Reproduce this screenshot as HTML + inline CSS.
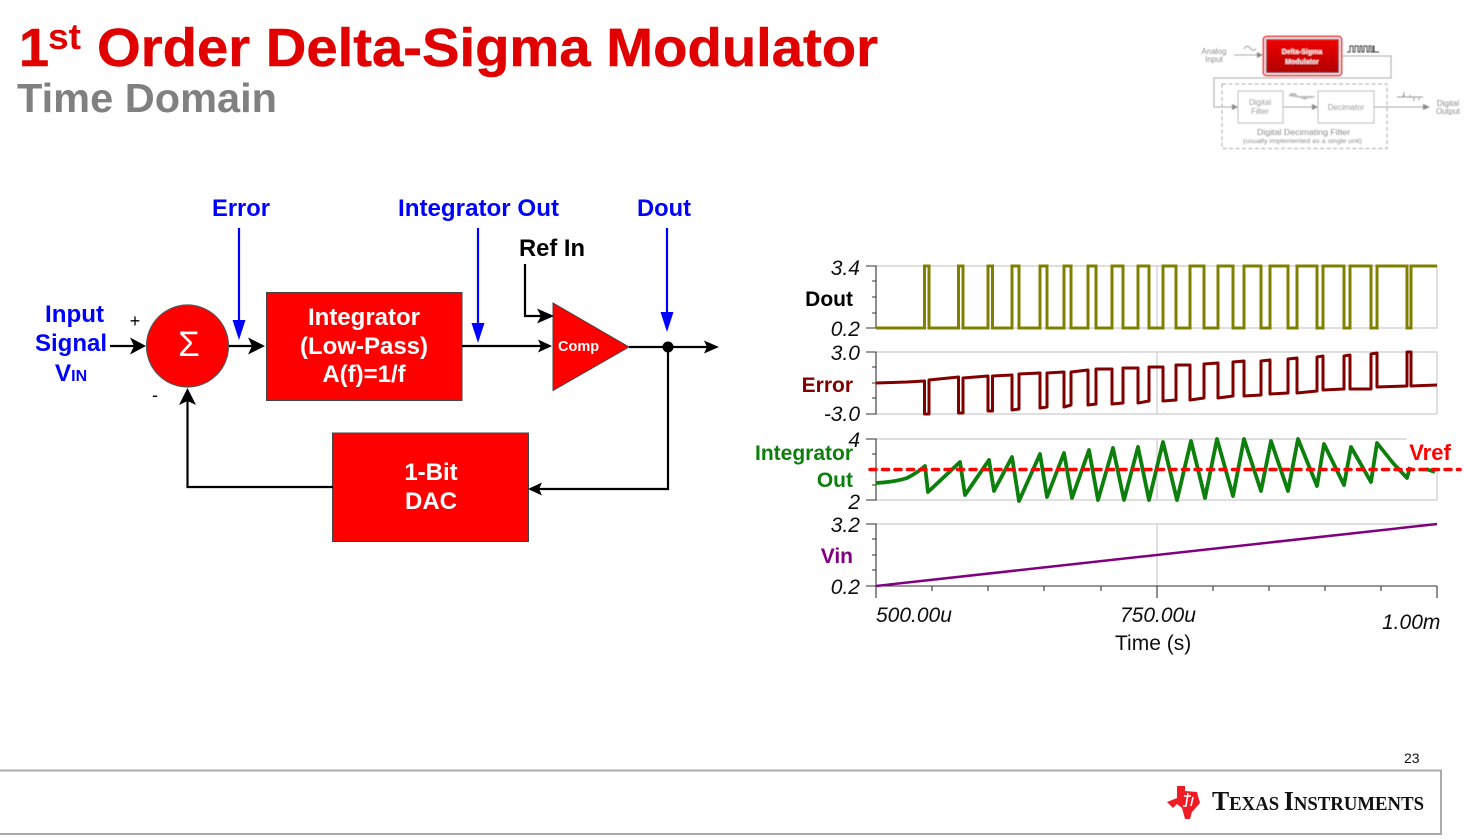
<!DOCTYPE html>
<html><head><meta charset="utf-8"><style>
html,body{margin:0;padding:0;background:#fff;width:1464px;height:840px;overflow:hidden}
svg{display:block}
text{font-family:"Liberation Sans",sans-serif}
.b{font-weight:bold;font-size:24.500px}
.blue{fill:#0000ff}
.w{fill:#fff;font-weight:bold;font-size:24px;text-anchor:middle}
.ax{font-style:italic;font-size:21px;text-anchor:end;fill:#111}
.lab{font-weight:bold;font-size:21px;text-anchor:end}
.th{fill:#8c8c8c;font-size:8px;text-anchor:middle}
</style></head><body>
<svg width="1464" height="840" viewBox="0 0 1464 840" xmlns="http://www.w3.org/2000/svg">
<rect width="1464" height="840" fill="#fff"/>
<defs>
<filter id="bl" x="-5%" y="-5%" width="110%" height="110%"><feGaussianBlur stdDeviation="0.55"/></filter>
<filter id="sb" x="-2%" y="-2%" width="104%" height="104%"><feGaussianBlur stdDeviation="0.3"/></filter>
<linearGradient id="rg" x1="0" y1="0" x2="0" y2="1"><stop offset="0" stop-color="#f00000"/><stop offset="1" stop-color="#b00000"/></linearGradient>
</defs>
<!-- Title -->
<text x="19" y="66" font-weight="bold" font-size="54" fill="#e00000" stroke="#e00000" stroke-width="0.500">1</text>
<text x="48" y="49" font-weight="bold" font-size="36" fill="#e00000" textLength="33" lengthAdjust="spacingAndGlyphs">st</text>
<text x="97" y="66" font-weight="bold" font-size="54" fill="#e00000" stroke="#e00000" stroke-width="0.500" textLength="781" lengthAdjust="spacingAndGlyphs">Order Delta-Sigma Modulator</text>
<text x="17" y="112" font-weight="bold" font-size="41" fill="#808080" textLength="260" lengthAdjust="spacingAndGlyphs">Time Domain</text>

<!-- Thumbnail -->
<g filter="url(#bl)">
<rect x="1222" y="84" width="165" height="64.500" fill="none" stroke="#aaa" stroke-dasharray="4 2.500"/>
<rect x="1238" y="91" width="45" height="32" fill="#fff" stroke="#bbb"/>
<rect x="1318" y="91" width="56" height="32" fill="#fff" stroke="#bbb"/>
<path d="M1234 55H1257M1342 56H1391V78H1214V107H1233M1283 107H1313M1374 107H1425" fill="none" stroke="#aaa"/>
<path d="M1257 52l6 3l-6 3zM1232 104l6 3l-6 3zM1312 104l6 3l-6 3zM1423 104l7 3l-7 3z" fill="#888"/>
<rect x="1263.500" y="36.500" width="78" height="39" rx="3" fill="#fff" stroke="#e01010" stroke-width="1.500"/>
<rect x="1266" y="39" width="73" height="34" fill="url(#rg)" stroke="#79a" stroke-width="0.800"/>
<text x="1302" y="54" fill="#fff" font-size="7" font-weight="bold" text-anchor="middle">Delta-Sigma</text>
<text x="1302" y="64" fill="#fff" font-size="7" font-weight="bold" text-anchor="middle">Modulator</text>
<text x="1214" y="54" class="th">Analog</text><text x="1214" y="62" class="th">Input</text>
<text x="1260" y="105" class="th">Digital</text><text x="1260" y="114" class="th">Filter</text>
<text x="1346" y="110" class="th">Decimator</text>
<text x="1448" y="106" class="th">Digital</text><text x="1448" y="114" class="th">Output</text>
<text x="1303.500" y="135" class="th" textLength="93" lengthAdjust="spacingAndGlyphs">Digital Decimating Filter</text>
<text x="1302.500" y="143" class="th" style="font-size:6px" textLength="119" lengthAdjust="spacingAndGlyphs">(usually implemented as a single unit)</text>
<path d="M1244 49q3-5 6-1t6 1" fill="none" stroke="#999"/>
<path d="M1347 52h3v-6h3v6h2v-6h3v6h2v-6h2v6h2v-6h3v6h2v-6h2v6h2v-6h1v6h5" fill="none" stroke="#333" stroke-width="0.900"/>
<path d="M1288 96l3-3h4l3 3h18l-4 2h-4l-3 2l-4-2z" fill="#bbb"/>
<path d="M1397 97h26M1403 97v-2M1404 97v-5M1410 97v-2M1414 97v4M1419 97v3" fill="none" stroke="#999"/>
</g>

<!-- Blue labels -->
<text x="212" y="216" class="b blue" textLength="58" lengthAdjust="spacingAndGlyphs">Error</text>
<text x="398" y="216" class="b blue" textLength="161" lengthAdjust="spacingAndGlyphs">Integrator Out</text>
<text x="637" y="216" class="b blue" textLength="54" lengthAdjust="spacingAndGlyphs">Dout</text>
<text x="519" y="256" class="b" fill="#000" textLength="66" lengthAdjust="spacingAndGlyphs">Ref In</text>
<text x="45" y="322" class="b blue" textLength="59" lengthAdjust="spacingAndGlyphs">Input</text>
<text x="35" y="351" class="b blue" textLength="72" lengthAdjust="spacingAndGlyphs">Signal</text>
<text x="71" y="381" class="b blue" text-anchor="middle">V<tspan font-size="16">IN</tspan></text>
<text x="135" y="327" font-size="18" text-anchor="middle" fill="#000">+</text>
<text x="155" y="401" font-size="18" text-anchor="middle" fill="#000">-</text>

<!-- Blocks -->
<circle cx="187.500" cy="346" r="41" fill="#ff0000" stroke="#555" stroke-width="1.200"/>
<text x="189" y="356" font-size="35" fill="#fff" text-anchor="middle">Σ</text>
<rect x="266.500" y="292.500" width="195.500" height="108" fill="#ff0000" stroke="#444" stroke-width="1"/>
<text x="364" y="325" class="w">Integrator</text>
<text x="364" y="354" class="w">(Low-Pass)</text>
<text x="364" y="382" class="w">A(f)=1/f</text>
<rect x="332.500" y="433" width="196" height="108.500" fill="#ff0000" stroke="#444" stroke-width="1"/>
<text x="431" y="480" class="w">1-Bit</text>
<text x="431" y="509" class="w">DAC</text>
<polygon points="553,303 553,390.500 629,347" fill="#ff0000" stroke="#444" stroke-width="1"/>
<text x="558" y="351" fill="#fff" font-weight="bold" font-size="14.500">Comp</text>

<!-- Black connectors -->
<path d="M110 346H135M229 346H252M462 346H542M525 264V316H542M629 347H708M668 347V489H537M333 487H187.500V400" fill="none" stroke="#000" stroke-width="2.200"/>
<path d="M146 346l-16-8.500l4 8.500l-4 8.500zM265 346l-17-8.500l4 8.500l-4 8.500zM552 346l-14-6.500l3 6.500l-3 6.500zM554 316l-17-7.500l4 7.500l-4 7.500zM719 347l-15-6.500l3 6.500l-3 6.500zM528 489l14-6.500l-3 6.500l3 6.500zM187.500 388l-8.500 17l8.500-4l8.500 4z" fill="#000"/>
<circle cx="668" cy="347" r="5.500" fill="#000"/>

<!-- Blue connectors -->
<path d="M239 228V325M478 228V326M667 228V316" fill="none" stroke="#0000ff" stroke-width="2.200"/>
<path d="M232.500 320h13l-6.500 20zM471.500 323h13l-6.500 20zM660.500 312h13l-6.500 20z" fill="#0000ff"/>

<g filter="url(#sb)">
<!-- Chart grid -->
<path d="M876 266H1437V328H876M876 352H1437V414H876M876 439H1407M1437 470V500H876M876 524H1437M1157 266V328M1157 352V414M1157 439V500M1157 524V586" fill="none" stroke="#ccc" stroke-width="1.200"/>
<!-- Chart axes -->
<path d="M866 266H876V328H866M872 281H876M872 297H876M872 313H876M866 352H876V414H866M872 367H876M872 383H876M872 398H876M866 439H876V500H866M872 454H876M872 470H876M872 485H876M866 524H876V586M872 539H876M872 555H876M872 570H876M866 586H1437M876 586V598M1157 586V598M1437 586V598M932 586V591M988 586V591M1044 586V591M1101 586V591M1213 586V591M1269 586V591M1325 586V591M1381 586V591" fill="none" stroke="#333" stroke-width="1.100"/>

<!-- Dout -->
<path d="M876 328H924.500V266H929V328H958.500V266H963V328H988V266H992.500V328H1012V266H1019V328H1040V266H1047V328H1064V266H1071V328H1088V266H1096V328H1112V266H1123V328H1138V266H1149V328H1163V266H1176V328H1190V266H1204V328H1218V266H1233V328H1244V266H1261V328H1270V266H1288V328H1297V266H1317V328H1323V266H1344V328H1350V266H1371V328H1377V266H1407V328H1411V266H1437" fill="none" stroke="#808000" stroke-width="3"/>
<!-- Error -->
<path d="M876 383L907 382L924.500 381V414H929V380L958.500 377V413H963V378L988 376V411H992.500V376L1012 375V410L1019 409V374L1040 373V408L1047 407V373L1064 372V407L1071 405V372L1088 370V405L1096 404V369L1112 369V404L1123 403V368L1138 368V403L1149 401V367L1163 367V401L1176 400V365L1190 365V400L1204 398V364L1218 363V398L1233 396V362L1244 361V396L1261 395V361L1270 360V394L1288 393V359L1297 358V393L1317 391V357L1323 356V390L1344 389V356L1350 355V389L1371 389V354L1377 353V387L1407 386V352L1411 352V386L1437 385" fill="none" stroke="#800000" stroke-width="3" stroke-linejoin="round"/>
<!-- Integrator -->
<path d="M876 483Q895 482 907 478Q917 473 925 466L928 492L960 462L965 495L989 460L994 491L1012 457L1019 501L1040 454L1047 497L1064 453L1072 498L1089 450L1098 500L1113 448L1124 500L1138 447L1149 500L1163 442L1177 500L1191 441L1205 498L1217 439L1233 496L1244 439L1261 491L1271 441L1288 491L1298 439L1317 486L1324 444L1344 485L1351 447L1371 482L1377 443L1393 463L1407 478L1410 467M1426 469L1435 472" fill="none" stroke="#0f7f0f" stroke-width="3.800" stroke-linejoin="round"/>
<!-- Vin -->
<path d="M876 586L1437 524" fill="none" stroke="#800080" stroke-width="2.500"/>
<!-- Vref -->
<path d="M870 469.500H1460" fill="none" stroke="#ff0000" stroke-width="3.500" stroke-dasharray="6 6.500" stroke-linecap="round"/>
<text x="1430" y="460" font-weight="bold" font-size="22" fill="#ff0000" text-anchor="middle">Vref</text>

<!-- Axis numbers -->
<text x="860" y="275" class="ax">3.4</text>
<text x="860" y="336" class="ax">0.2</text>
<text x="860" y="360" class="ax">3.0</text>
<text x="860" y="421" class="ax">-3.0</text>
<text x="860" y="447" class="ax">4</text>
<text x="860" y="509" class="ax">2</text>
<text x="860" y="532" class="ax">3.2</text>
<text x="860" y="594" class="ax">0.2</text>
<text x="853" y="306" class="lab" fill="#000">Dout</text>
<text x="853" y="392" class="lab" fill="#800000">Error</text>
<text x="853" y="460" class="lab" fill="#0f7f0f">Integrator</text>
<text x="853" y="487" class="lab" fill="#0f7f0f">Out</text>
<text x="853" y="563" class="lab" fill="#800080">Vin</text>
<text x="876" y="622" font-style="italic" font-size="21" fill="#111">500.00u</text>
<text x="1120" y="622" font-style="italic" font-size="21" fill="#111">750.00u</text>
<text x="1382" y="629" font-style="italic" font-size="21" fill="#111">1.00m</text>
<text x="1115" y="650" font-size="21" fill="#111">Time (s)</text>
</g>

<!-- Footer -->
<text x="1404" y="763" font-size="14" fill="#111">23</text>
<path d="M0 770.500H1441V834H0" fill="none" stroke="#aaa" stroke-width="2"/>
<path d="M1177 786H1185V791L1197 792L1200 803L1192 812L1190 819H1185L1182 808L1177 804L1173 808L1167 802L1177 798Z" fill="#ee1c25"/>
<path d="M1188 793L1186 806H1183M1184 796H1191M1193 797L1191 806" fill="none" stroke="#fff" stroke-width="1.600"/>
<text x="1212" y="810" font-weight="bold" font-size="27.500" fill="#111" textLength="212" lengthAdjust="spacingAndGlyphs" style="font-family:'Liberation Serif',serif">T<tspan font-size="20">EXAS </tspan>I<tspan font-size="20">NSTRUMENTS</tspan></text>
</svg>
</body></html>
